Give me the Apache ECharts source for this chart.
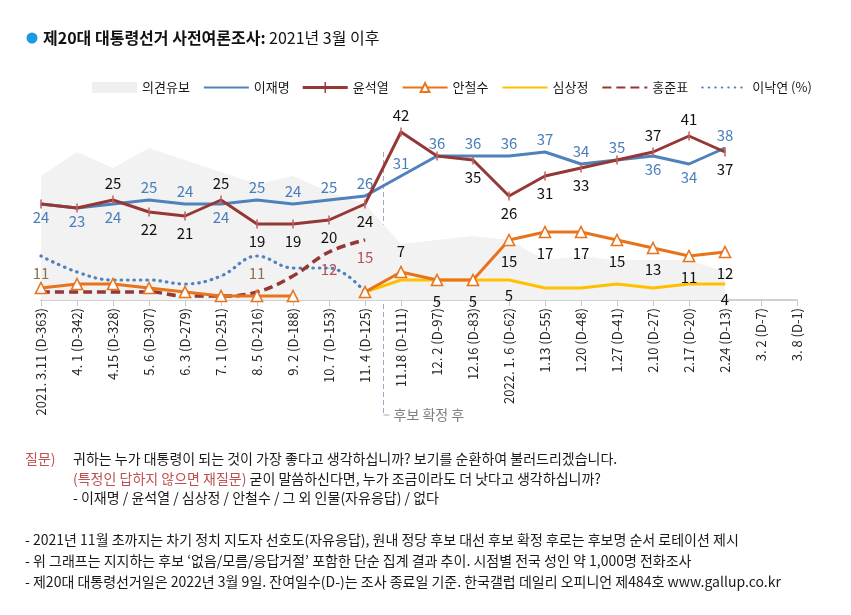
<!DOCTYPE html>
<html><head><meta charset="utf-8">
<script src="https://cdn.jsdelivr.net/npm/echarts@6/dist/echarts.min.js"></script>
<style>html,body{margin:0;padding:0;background:#fff;}#c{width:851px;height:615px;}</style>
</head><body><div id="c"></div>
<script>
const cats = ['2021. 3.11 (D-363)','4. 1 (D-342)','4.15 (D-328)','5. 6 (D-307)','6. 3 (D-279)','7. 1 (D-251)','8. 5 (D-216)','9. 2 (D-188)','10. 7 (D-153)','11. 4 (D-125)','11.18 (D-111)','12. 2 (D-97)','12.16 (D-83)','2022. 1. 6 (D-62)','1.13 (D-55)','1.20 (D-48)','1.27 (D-41)','2.10 (D-27)','2.17 (D-20)','2.24 (D-13)','3. 2 (D-7)','3. 8 (D-1)'];
const undecided = [31,37,33,38,35,32,29,31,27,24,14,15,16,15,10,11,10,10,10,7];
const lee    = [24,23,24,25,24,24,25,24,25,26,31,36,36,36,37,34,35,36,34,38];
const yoon   = [24,23,25,22,21,25,19,19,20,24,42,36,35,26,31,33,35,37,41,37];
const ahn    = [3,4,4,3,2,1,1,1,null,2,7,5,5,15,17,17,15,13,11,12];
const sim    = [null,null,null,null,null,null,null,null,null,2,5,5,5,5,3,3,4,3,4,4];
const hong   = [2,2,2,2,1,1,2,6,12,15];
const nakyon = [11,7,5,5,4,6,11,8,8,2];

// label placement: t = above, b = below, '' = none
const leeLbl    = ['b','b','b','t','t','b','t','t','t','t','t','t','t','t','t','t','t','b','b','t'];
const yoonLbl   = ['','','t','b','b','t','b','b','b','b','t','','b','b','b','b','','t','t','b'];
const ahnLbl    = ['','','','','','','','','','','t','b','b','b','b','b','b','b','b','b'];
const simLbl    = ['','','','','','','','','','','','','','b','','','','','','b'];
const hongLbl   = ['','','','','','','','','b','b'];
const nakyonLbl = ['b','','','','','','b','','',''];

const FONT = "'Noto Sans CJK KR','Noto Sans',sans-serif";
function mk(vals, pos){
  return vals.map((v,i)=>{
    const p = pos[i] || '';
    return {value: v==null?'-':v, label:{show: p!=='' && v!=null, position: p==='t'?'top':'bottom'}};
  });
}
const BLUE='#4f81bd', RED='#953735', ORANGE='#e8731a', YELLOW='#ffc000';
const chart = echarts.init(document.getElementById('c'), null, {renderer:'canvas'});
const LFS = 15;
const NFS = 14;
const option = {
  animation:false,
  textStyle:{fontFamily:FONT},
  grid:{left:41, right:54, top:100, bottom:315},
  legend:{
    left:87, top:76, itemWidth:45, itemHeight:11, itemGap:13,
    textStyle:{fontSize:13, color:'#1a1a1a', fontFamily:FONT},
    data:[
      {name:'의견유보', icon:'rect', itemStyle:{color:'#efefef'}},
      {name:'이재명', itemStyle:{opacity:0}},
      {name:'윤석열', icon:'path://M0,4L45,4L45,7L0,7Z M21.8,0L23.2,0L23.2,11L21.8,11Z', itemStyle:{color:RED}},
      '안철수',
      {name:'심상정', itemStyle:{opacity:0}},
      {name:'홍준표', itemStyle:{opacity:0}},
      {name:'이낙연 (%)', itemStyle:{opacity:0}}
    ]
  },
  xAxis:{
    type:'category', data:cats, boundaryGap:false,
    axisLine:{lineStyle:{color:'#d0d0d0', width:2}},
    axisTick:{show:true, length:6, lineStyle:{color:'#c8c8c8', width:1}},
    axisLabel:{rotate:90, fontSize:13, color:'#262626', margin:8, interval:0, fontFamily:FONT},
    splitLine:{show:false}
  },
  yAxis:{type:'value', min:0, max:50, show:false, splitLine:{show:false}},
  series:[
    {name:'의견유보', type:'line', data:undecided, symbol:'none', lineStyle:{width:0}, areaStyle:{color:'#f2f2f2', opacity:1}, itemStyle:{color:'#efefef'}, z:1},
    {name:'이낙연 (%)', type:'line', data:mk(nakyon,nakyonLbl), smooth:0.4, symbol:'circle', symbolSize:1,
      lineStyle:{color:BLUE, width:3.2, type:[0.5,6], cap:'round'}, itemStyle:{color:BLUE},
      label:{color:'#8d7052', distance:9, fontSize:LFS, fontFamily:FONT}, z:3},
    {name:'홍준표', type:'line', data:mk(hong,hongLbl), smooth:0.4, symbol:'circle', symbolSize:1,
      lineStyle:{color:RED, width:3.5, type:[9,5]}, itemStyle:{color:RED},
      label:{color:'#b5505a', distance:9, fontSize:LFS, fontFamily:FONT}, z:3},
    {name:'심상정', type:'line', data:mk(sim,simLbl), symbol:'circle', symbolSize:1,
      lineStyle:{color:YELLOW, width:3}, itemStyle:{color:YELLOW},
      label:{color:'#111', distance:7, fontSize:LFS, fontFamily:FONT}, z:4},
    {name:'안철수', type:'line', data:mk(ahn,ahnLbl), symbol:'triangle', symbolSize:11,
      lineStyle:{color:ORANGE, width:3}, itemStyle:{color:'#fff', borderColor:ORANGE, borderWidth:1.6},
      label:{color:'#111', distance:7, fontSize:LFS, fontFamily:FONT}, z:5},
    {name:'이재명', type:'line', data:mk(lee,leeLbl), symbol:'circle', symbolSize:1,
      lineStyle:{color:BLUE, width:3}, itemStyle:{color:BLUE},
      label:{color:'#4a7ebb', distance:5, fontSize:LFS, fontFamily:FONT}, z:6},
    {name:'윤석열', type:'line', data:mk(yoon,yoonLbl), symbol:'rect', symbolSize:[1.5,9],
      lineStyle:{color:RED, width:3}, itemStyle:{color:'#c0605c'},
      label:{color:'#111', distance:5, fontSize:LFS, fontFamily:FONT}, z:7}
  ]
};
chart.setOption(option);

const xa = chart.convertToPixel({xAxisIndex:0}, cats[9]);
const xb = chart.convertToPixel({xAxisIndex:0}, cats[10]);
const xm = Math.round((xa+xb)/2)+0.5;
const yTop = chart.convertToPixel({yAxisIndex:0}, 37);
const yElbow = 415;
const graphics = [
  {type:'circle', shape:{cx:32, cy:38, r:5.5}, style:{fill:'#1a9ae0'}},
  {type:'text', x:43, y:38, style:{text:'{b|제20대 대통령선거 사전여론조사:} {n|2021년 3월 이후}', verticalAlign:'middle',
    rich:{b:{fontSize:16, fontWeight:'bold', fontFamily:FONT, fill:'#111'}, n:{fontSize:16, fontFamily:FONT, fill:'#111'}}}},
  {type:'line', shape:{x1:xm, y1:yTop, x2:xm, y2:yElbow}, style:{stroke:'#a9a6c4', lineWidth:1, lineDash:[5,3]}},
  {type:'line', shape:{x1:xm, y1:yElbow, x2:xm+6, y2:yElbow}, style:{stroke:'#a9a6c4', lineWidth:1}},
  {type:'text', x:xm+10, y:yElbow, style:{text:'후보 확정 후', fontSize:14, fontFamily:FONT, fill:'#7f7f7f', verticalAlign:'middle'}},
  {type:'text', x:25, y:459, style:{text:'질문)', fontSize:NFS, fontFamily:FONT, fill:'#c0504d', verticalAlign:'middle'}},
  {type:'text', x:73, y:459, style:{text:'귀하는 누가 대통령이 되는 것이 가장 좋다고 생각하십니까? 보기를 순환하여 불러드리겠습니다.', fontSize:NFS, fontFamily:FONT, fill:'#1a1a1a', verticalAlign:'middle'}},
  {type:'text', x:73, y:479, style:{text:'{r|(특정인 답하지 않으면 재질문)}{k| 굳이 말씀하신다면, 누가 조금이라도 더 낫다고 생각하십니까?}', verticalAlign:'middle',
    rich:{r:{fontSize:NFS, fontFamily:FONT, fill:'#c0504d'}, k:{fontSize:NFS, fontFamily:FONT, fill:'#1a1a1a'}}}},
  {type:'text', x:73, y:498, style:{text:'- 이재명 / 윤석열 / 심상정 / 안철수 / 그 외 인물(자유응답) / 없다', fontSize:NFS, fontFamily:FONT, fill:'#1a1a1a', verticalAlign:'middle'}},
  {type:'text', x:25, y:540, style:{text:'- 2021년 11월 초까지는 차기 정치 지도자 선호도(자유응답), 원내 정당 후보 대선 후보 확정 후로는 후보명 순서 로테이션 제시', fontSize:NFS, fontFamily:FONT, fill:'#1a1a1a', verticalAlign:'middle'}},
  {type:'text', x:25, y:561, style:{text:'- 위 그래프는 지지하는 후보 ‘없음/모름/응답거절’ 포함한 단순 집계 결과 추이. 시점별 전국 성인 약 1,000명 전화조사', fontSize:NFS, fontFamily:FONT, fill:'#1a1a1a', verticalAlign:'middle'}},
  {type:'text', x:25, y:582, style:{text:'- 제20대 대통령선거일은 2022년 3월 9일. 잔여일수(D-)는 조사 종료일 기준. 한국갤럽 데일리 오피니언 제484호 www.gallup.co.kr', fontSize:NFS, fontFamily:FONT, fill:'#1a1a1a', verticalAlign:'middle'}}
];
chart.setOption({graphic: graphics});
</script>
</body></html>
